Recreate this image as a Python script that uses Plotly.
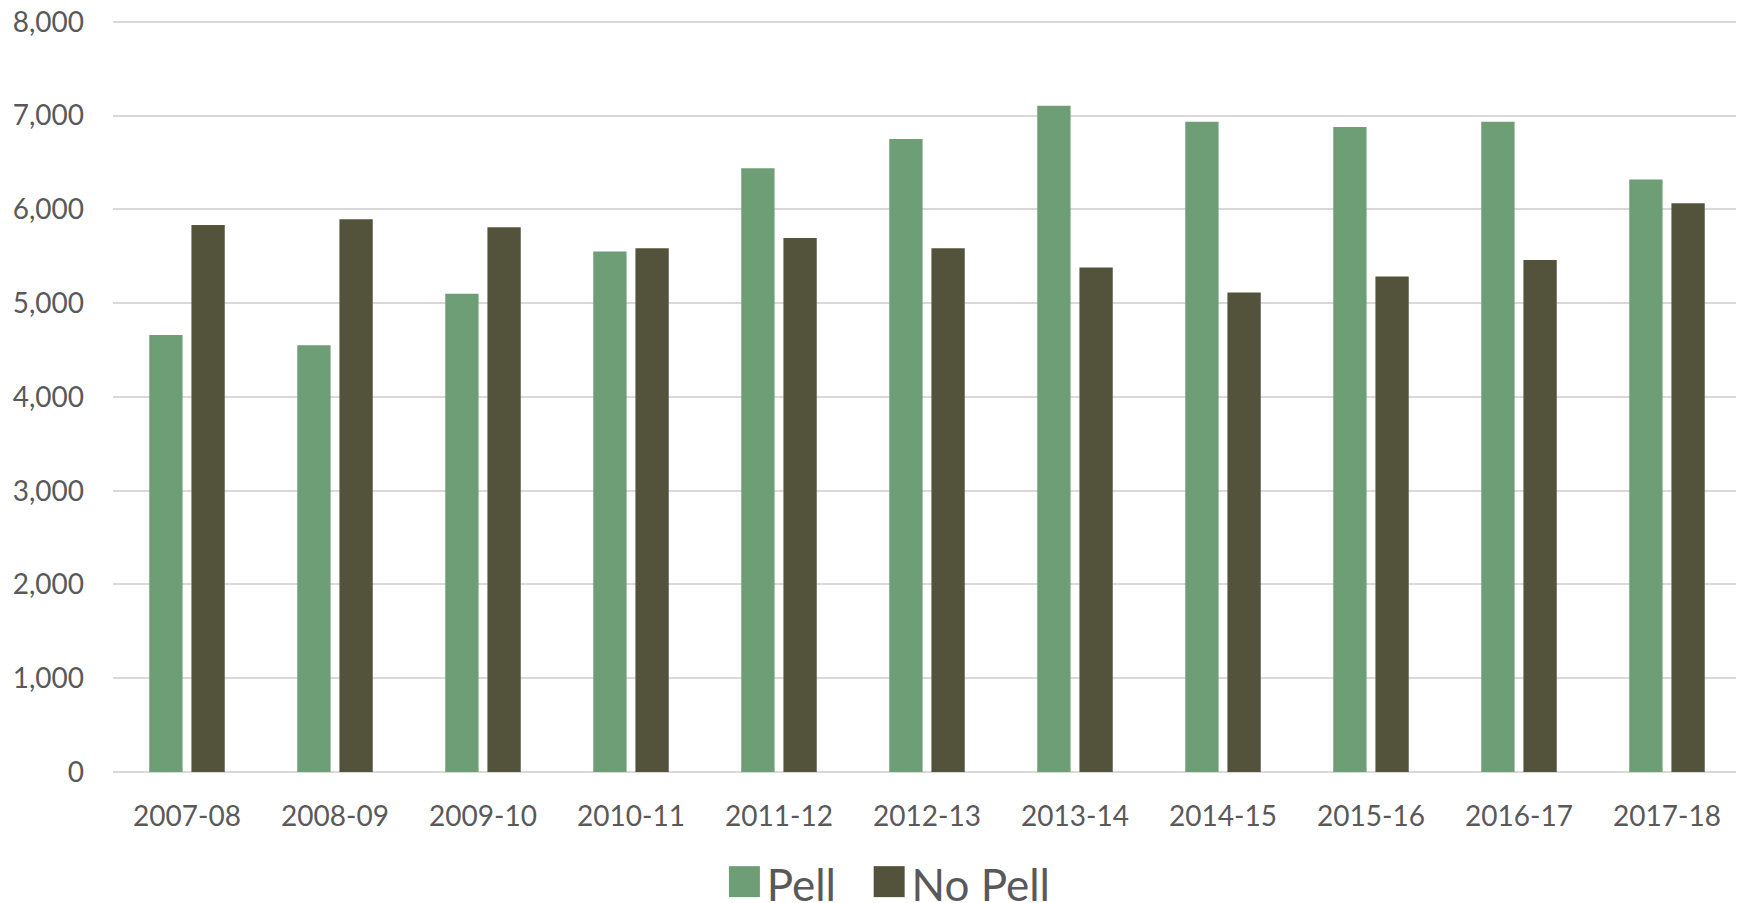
import plotly.graph_objects as go

years = ['2007-08', '2008-09', '2009-10', '2010-11', '2011-12', '2012-13',
         '2013-14', '2014-15', '2015-16', '2016-17', '2017-18']
pell = [4660, 4550, 5100, 5550, 6440, 6750, 7105, 6935, 6880, 6935, 6320]
no_pell = [5835, 5895, 5810, 5585, 5695, 5585, 5380, 5115, 5285, 5460, 6065]
series_names = ['Pell', 'No Pell']

pell_color = '#6E9E75'
no_pell_color = '#52533A'
text_color = '#595959'
grid_color = '#D9D9D9'

fig = go.Figure()

fig.add_trace(
    go.Bar(
        x=years,
        y=pell,
        name=series_names[0],
        marker=dict(color=pell_color, line=dict(width=0)),
        showlegend=False,
    )
)

fig.add_trace(
    go.Bar(
        x=years,
        y=no_pell,
        name=series_names[1],
        marker=dict(color=no_pell_color, line=dict(width=0)),
        showlegend=False,
    )
)

# legend drawn as text so the colour squares can be as big as the original
square = '<span style="color:{};font-size:64px">■</span><span style="font-size:12px"> </span>{}'
legend_text = (
    square.format(pell_color, series_names[0])
    + '   '
    + square.format(no_pell_color, series_names[1])
)

fig.add_annotation(
    text=legend_text,
    xref='paper',
    yref='paper',
    x=0.476,
    y=-0.193,
    xanchor='center',
    yanchor='bottom',
    showarrow=False,
    font=dict(family='Lato', size=44, color=text_color),
)

# the page body adds an 8px margin, so the figure is made 8px smaller
fig.update_layout(
    width=1736,
    height=895,
    barmode='group',
    bargap=0.43,
    bargroupgap=0.21,
    plot_bgcolor='white',
    paper_bgcolor='white',
    font=dict(family='Lato', size=28, color=text_color),
    margin=dict(l=105, r=3, t=12, b=131),
    xaxis=dict(
        type='category',
        automargin=False,
        showgrid=False,
        showline=False,
        zeroline=False,
        ticks='',
        ticklabelstandoff=25,
        tickfont=dict(size=28, color=text_color),
    ),
    yaxis=dict(
        automargin=False,
        range=[0, 8020],
        tickvals=[0, 1000, 2000, 3000, 4000, 5000, 6000, 7000, 8000],
        tickformat=',',
        ticklabeloverflow='allow',
        showgrid=True,
        gridcolor=grid_color,
        gridwidth=1.5,
        zeroline=True,
        zerolinecolor=grid_color,
        zerolinewidth=1.5,
        showline=False,
        ticks='',
        ticklabelstandoff=28,
        tickfont=dict(size=28, color=text_color),
    ),
)

fig.write_html('out.html')
